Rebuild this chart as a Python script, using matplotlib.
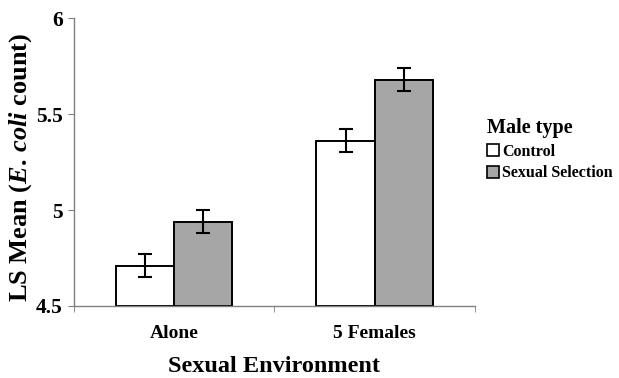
import matplotlib.pyplot as plt
import numpy as np
from matplotlib.patches import Patch

# LS means and standard errors per sexual environment
environments = ['Alone', '5 Females']
control = [4.71, 5.36]
control_se = [0.06, 0.06]
sexual_selection = [4.94, 5.68]
sexual_selection_se = [0.06, 0.06]

plt.rcParams['font.family'] = ['Liberation Serif', 'DejaVu Serif']
plt.rcParams['font.weight'] = 'bold'
plt.rcParams['mathtext.fontset'] = 'custom'
plt.rcParams['mathtext.rm'] = 'Liberation Serif:bold'
plt.rcParams['mathtext.bf'] = 'Liberation Serif:bold'
plt.rcParams['mathtext.it'] = 'Liberation Serif:italic:bold'
plt.rcParams['mathtext.bfit'] = 'Liberation Serif:italic:bold'

fig = plt.figure(figsize=(6.19, 3.78), dpi=100)
ax = fig.add_axes([0.1195, 0.1905, 0.6475, 0.7615])

x = np.arange(len(environments))
w = 0.29
err_kw = dict(ecolor='black', elinewidth=1.5, capsize=5, capthick=1.5)
ax.bar(x - w / 2, np.array(control) - 4.5, w, bottom=4.5, color='white',
       edgecolor='black', linewidth=1.4, yerr=control_se, error_kw=err_kw)
ax.bar(x + w / 2, np.array(sexual_selection) - 4.5, w, bottom=4.5, color='#a6a6a6',
       edgecolor='black', linewidth=1.4, yerr=sexual_selection_se, error_kw=err_kw)

ax.set_xlim(-0.5, 1.5)
ax.set_ylim(4.5, 6)
ax.set_yticks([4.5, 5, 5.5, 6])
ax.set_yticklabels(['4.5', '5', '5.5', '6'], fontsize=15.5, fontweight='bold')
ax.set_xticks(x)
ax.set_xticklabels(environments, fontsize=14, fontweight='bold')
ax.tick_params(axis='x', length=0, pad=14)
ax.set_xticks([-0.5, 0.5, 1.5], minor=True)
ax.tick_params(axis='x', which='minor', length=4, direction='out', color='#808080')
ax.tick_params(axis='y', length=4, color='#808080', pad=4)

for side in ['top', 'right']:
    ax.spines[side].set_visible(False)
for side in ['left', 'bottom']:
    ax.spines[side].set_color('#808080')
    ax.spines[side].set_linewidth(1)

ax.set_ylabel(r'LS Mean ($\mathit{E.}\,\mathit{coli}$ count)', fontsize=19, fontweight='bold')
ax.yaxis.set_label_coords(-0.1, 0.483)
ax.set_xlabel('Sexual Environment', fontsize=17.5, fontweight='bold')
ax.xaxis.set_label_coords(0.5, -0.175)

handles = [Patch(facecolor='white', edgecolor='black', linewidth=1.2),
           Patch(facecolor='#a6a6a6', edgecolor='black', linewidth=1.2)]
leg = fig.legend(handles, ['Control', 'Sexual Selection'], title='Male type',
                 loc='upper left', bbox_to_anchor=(0.769, 0.717), frameon=False,
                 prop={'size': 11.5, 'weight': 'bold'}, handlelength=0.75,
                 handleheight=0.75, handletextpad=0.2, labelspacing=0.35,
                 borderpad=0.2)
leg.get_title().set_fontsize(14.5)
leg.get_title().set_fontweight('bold')
leg._legend_box.align = 'left'

fig.savefig('out.png', dpi=100)
